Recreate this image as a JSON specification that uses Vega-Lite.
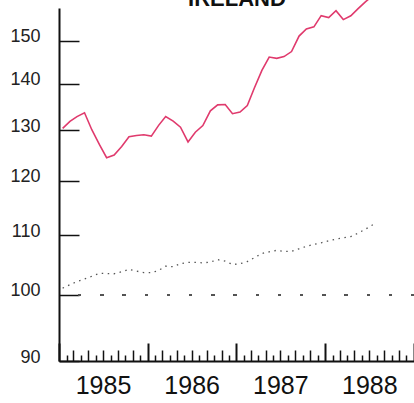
{
  "$schema": "https://vega.github.io/schema/vega-lite/v6.json",
  "width": 355,
  "height": 353,
  "autosize": {"type": "none"},
  "padding": {"left": 59, "top": 8, "right": 0, "bottom": 42},
  "background": "white",
  "config": {"view": {"stroke": null}, "axis": {"grid": false}},
  "data": {"values": [
    {"date": "1985-01-16", "series": "Ireland", "value": 130.40},
    {"date": "1985-02-15", "series": "Ireland", "value": 131.86},
    {"date": "1985-03-16", "series": "Ireland", "value": 132.87},
    {"date": "1985-04-16", "series": "Ireland", "value": 133.70},
    {"date": "1985-05-16", "series": "Ireland", "value": 130.13},
    {"date": "1985-06-16", "series": "Ireland", "value": 127.12},
    {"date": "1985-07-16", "series": "Ireland", "value": 124.46},
    {"date": "1985-08-16", "series": "Ireland", "value": 124.97},
    {"date": "1985-09-16", "series": "Ireland", "value": 126.68},
    {"date": "1985-10-16", "series": "Ireland", "value": 128.69},
    {"date": "1985-11-16", "series": "Ireland", "value": 128.95},
    {"date": "1985-12-16", "series": "Ireland", "value": 129.08},
    {"date": "1986-01-16", "series": "Ireland", "value": 128.81},
    {"date": "1986-02-15", "series": "Ireland", "value": 131.04},
    {"date": "1986-03-16", "series": "Ireland", "value": 132.91},
    {"date": "1986-04-16", "series": "Ireland", "value": 131.92},
    {"date": "1986-05-16", "series": "Ireland", "value": 130.65},
    {"date": "1986-06-16", "series": "Ireland", "value": 127.63},
    {"date": "1986-07-16", "series": "Ireland", "value": 129.61},
    {"date": "1986-08-16", "series": "Ireland", "value": 131.00},
    {"date": "1986-09-16", "series": "Ireland", "value": 134.12},
    {"date": "1986-10-16", "series": "Ireland", "value": 135.39},
    {"date": "1986-11-16", "series": "Ireland", "value": 135.48},
    {"date": "1986-12-16", "series": "Ireland", "value": 133.49},
    {"date": "1987-01-16", "series": "Ireland", "value": 133.83},
    {"date": "1987-02-15", "series": "Ireland", "value": 135.26},
    {"date": "1987-03-16", "series": "Ireland", "value": 139.08},
    {"date": "1987-04-16", "series": "Ireland", "value": 143.03},
    {"date": "1987-05-16", "series": "Ireland", "value": 146.11},
    {"date": "1987-06-16", "series": "Ireland", "value": 145.81},
    {"date": "1987-07-16", "series": "Ireland", "value": 146.23},
    {"date": "1987-08-16", "series": "Ireland", "value": 147.40},
    {"date": "1987-09-16", "series": "Ireland", "value": 151.08},
    {"date": "1987-10-16", "series": "Ireland", "value": 152.82},
    {"date": "1987-11-16", "series": "Ireland", "value": 153.33},
    {"date": "1987-12-16", "series": "Ireland", "value": 156.09},
    {"date": "1988-01-16", "series": "Ireland", "value": 155.59},
    {"date": "1988-02-15", "series": "Ireland", "value": 157.34},
    {"date": "1988-03-16", "series": "Ireland", "value": 155.10},
    {"date": "1988-04-16", "series": "Ireland", "value": 156.04},
    {"date": "1988-05-16", "series": "Ireland", "value": 157.84},
    {"date": "1988-06-16", "series": "Ireland", "value": 159.61},
    {"date": "1988-07-16", "series": "Ireland", "value": 161.14},
    {"date": "1985-01-16", "series": "Reference", "value": 101.09},
    {"date": "1985-02-15", "series": "Reference", "value": 101.65},
    {"date": "1985-03-16", "series": "Reference", "value": 102.15},
    {"date": "1985-04-16", "series": "Reference", "value": 102.58},
    {"date": "1985-05-16", "series": "Reference", "value": 103.02},
    {"date": "1985-06-16", "series": "Reference", "value": 103.51},
    {"date": "1985-07-16", "series": "Reference", "value": 103.45},
    {"date": "1985-08-16", "series": "Reference", "value": 103.43},
    {"date": "1985-09-16", "series": "Reference", "value": 103.76},
    {"date": "1985-10-16", "series": "Reference", "value": 104.16},
    {"date": "1985-11-16", "series": "Reference", "value": 103.86},
    {"date": "1985-12-16", "series": "Reference", "value": 103.63},
    {"date": "1986-01-16", "series": "Reference", "value": 103.60},
    {"date": "1986-02-15", "series": "Reference", "value": 103.98},
    {"date": "1986-03-16", "series": "Reference", "value": 104.69},
    {"date": "1986-04-16", "series": "Reference", "value": 104.59},
    {"date": "1986-05-16", "series": "Reference", "value": 105.12},
    {"date": "1986-06-16", "series": "Reference", "value": 105.31},
    {"date": "1986-07-16", "series": "Reference", "value": 105.32},
    {"date": "1986-08-16", "series": "Reference", "value": 105.24},
    {"date": "1986-09-16", "series": "Reference", "value": 105.37},
    {"date": "1986-10-16", "series": "Reference", "value": 105.78},
    {"date": "1986-11-16", "series": "Reference", "value": 105.53},
    {"date": "1986-12-16", "series": "Reference", "value": 104.97},
    {"date": "1987-01-16", "series": "Reference", "value": 105.09},
    {"date": "1987-02-15", "series": "Reference", "value": 105.46},
    {"date": "1987-03-16", "series": "Reference", "value": 106.11},
    {"date": "1987-04-16", "series": "Reference", "value": 106.83},
    {"date": "1987-05-16", "series": "Reference", "value": 107.11},
    {"date": "1987-06-16", "series": "Reference", "value": 107.37},
    {"date": "1987-07-16", "series": "Reference", "value": 107.18},
    {"date": "1987-08-16", "series": "Reference", "value": 107.20},
    {"date": "1987-09-16", "series": "Reference", "value": 107.63},
    {"date": "1987-10-16", "series": "Reference", "value": 108.06},
    {"date": "1987-11-16", "series": "Reference", "value": 108.40},
    {"date": "1987-12-16", "series": "Reference", "value": 108.66},
    {"date": "1988-01-16", "series": "Reference", "value": 109.02},
    {"date": "1988-02-15", "series": "Reference", "value": 109.30},
    {"date": "1988-03-16", "series": "Reference", "value": 109.51},
    {"date": "1988-04-16", "series": "Reference", "value": 109.75},
    {"date": "1988-05-16", "series": "Reference", "value": 110.35},
    {"date": "1988-06-16", "series": "Reference", "value": 111.07},
    {"date": "1988-07-16", "series": "Reference", "value": 111.84}
  ]},
  "encoding": {
    "x": {"field": "date", "type": "temporal",
      "scale": {"type": "utc", "domain": [{"year": 1985, "month": 1, "date": 1, "utc": true}, {"year": 1989, "month": 1, "date": 1, "utc": true}]},
      "axis": {"orient": "bottom", "title": null, "domain": true, "domainColor": "#111111", "domainWidth": 2,
        "tickCount": {"interval": "month", "step": 1},
        "tickSize": {"condition": [{"test": "utcmonth(datum.value) == 0", "value": -18}, {"test": "utcmonth(datum.value) % 2 == 0", "value": -11}], "value": -6},
        "tickWidth": {"condition": {"test": "utcmonth(datum.value) == 0", "value": 2}, "value": 1.5},
        "tickColor": "#111111",
        "labelExpr": "utcmonth(datum.value) == 6 ? utcFormat(datum.value, '%Y') : ''",
        "labelFont": "Liberation Sans", "labelFontSize": 25, "labelColor": "#111111", "labelPadding": 23, "labelOverlap": false, "labelFlush": false, "labelBound": false}},
    "y": {"field": "value", "type": "quantitative",
      "scale": {"type": "log", "domain": [90, 158]},
      "axis": {"orient": "left", "title": "IRELAND", "titleAngle": 0, "titleX": 177.5, "titleY": -3, "titleAlign": "center", "titleBaseline": "alphabetic",
        "titleFont": "Liberation Sans", "titleFontSize": 22, "titleFontWeight": "bold", "titleColor": "#111111",
        "values": [90, 100, 110, 120, 130, 140, 150], "format": "d", "domainColor": "#111111", "domainWidth": 2, "tickSize": -20, "tickWidth": 1.5, "tickColor": "#111111",
        "labelFont": "Liberation Sans", "labelFontSize": 18, "labelColor": "#222222", "labelPadding": 39, "labelOffset": -4}}
  },
  "layer": [
    {
      "mark": {"type": "rule", "color": "#555555", "strokeWidth": 1.3, "strokeDash": [2.5, 19.7]},
      "encoding": {
        "x": null,
        "y": {"datum": 100, "type": "quantitative"}
      }
    },
    {
      "transform": [{"filter": "datum.series === 'Reference'"}],
      "mark": {"type": "line", "color": "#555555", "strokeWidth": 1.3, "strokeDash": [1.5, 4.5]}
    },
    {
      "transform": [{"filter": "datum.series === 'Ireland'"}],
      "mark": {"type": "line", "color": "#e03a6d", "strokeWidth": 1.6}
    }
  ]
}
